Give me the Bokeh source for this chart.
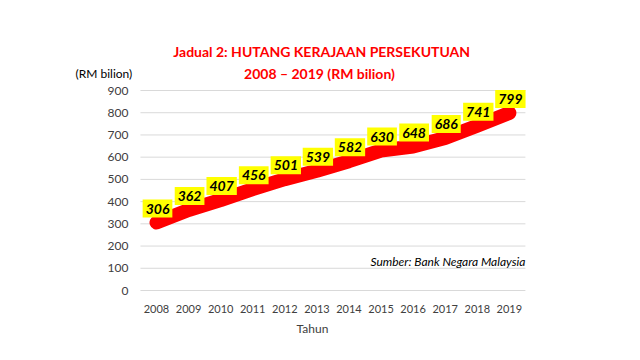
from bokeh.plotting import figure
from bokeh.models import ColumnDataSource, Label, Range1d, FixedTicker
from bokeh.core.properties import value
from bokeh.embed import file_html
from bokeh.resources import INLINE

years = ["2008", "2009", "2010", "2011", "2012", "2013", "2014", "2015", "2016", "2017", "2018", "2019"]
debt = [306, 362, 407, 456, 501, 539, 582, 630, 648, 686, 741, 799]
y_ticks = [0, 100, 200, 300, 400, 500, 600, 700, 800, 900]

title_1 = "Jadual 2: HUTANG KERAJAAN PERSEKUTUAN"
title_2 = "2008 \u2013 2019 (RM bilion)"
unit_label = "(RM bilion)"
source_note = "Sumber: Bank Negara Malaysia"
x_title = "Tahun"

FONT = "Lato"
TICK_COLOR = "#404040"

xs = list(range(len(years)))
src = ColumnDataSource(dict(x=xs, y=debt, t=[str(v) for v in debt]))

# frame covers the whole canvas; category slot = 1 unit
p = figure(x_range=Range1d(-4.863, 14.589), y_range=Range1d(-36, 1305),
           width=624, height=344, output_backend="svg", toolbar_location=None,
           min_border_left=0, min_border_right=0, min_border_top=0, min_border_bottom=46)
p.outline_line_color = None
p.background_fill_color = "white"
p.border_fill_color = "white"
p.xgrid.grid_line_color = None
p.ygrid.grid_line_color = None
p.yaxis.visible = False

# horizontal grid lines spanning the category band
grid_src = ColumnDataSource(dict(x0=[xs[0] - 0.5] * len(y_ticks), x1=[xs[-1] + 0.5] * len(y_ticks),
                                 y=y_ticks, t=[str(v) for v in y_ticks]))
p.segment(x0="x0", x1="x1", y0="y", y1="y", source=grid_src, line_color="#D9D9D9", line_width=1)
p.text(x="x0", y="y", text="t", source=grid_src, x_offset=-12, text_align="right",
       text_baseline="middle", text_font=value(FONT), text_font_size="12px",
       text_color=TICK_COLOR)

p.line("x", "y", source=src, line_color="#FF0000", line_width=14,
       line_cap="round", line_join="round")

p.text(x="x", y="y", text="t", source=src, text_font=value(FONT), text_font_size="14px",
       text_font_style="bold italic", text_color="black", text_align="center",
       text_baseline="middle", y_offset=-14, x_offset=1,
       background_fill_color="#FFFF00", padding=(3, 4))

p.xaxis.ticker = FixedTicker(ticks=xs)
p.xaxis.major_label_overrides = {x: yr for x, yr in zip(xs, years)}
p.xaxis.axis_line_color = None
p.xaxis.major_tick_line_color = None
p.xaxis.minor_tick_line_color = None
p.xaxis.major_label_text_font = FONT
p.xaxis.major_label_text_font_size = "11px"
p.xaxis.major_label_text_color = TICK_COLOR
p.xaxis.major_label_standoff = 0
p.xaxis.axis_label = x_title
p.xaxis.axis_label_text_font = FONT
p.xaxis.axis_label_text_font_style = "normal"
p.xaxis.axis_label_text_font_size = "12px"
p.xaxis.axis_label_text_color = TICK_COLOR
p.xaxis.axis_label_standoff = 5

p.add_layout(Label(x=5.15, y=1075, text=title_1, text_font=FONT, text_font_size="14px",
                   text_font_style="bold", text_color="#FF0000", text_align="center",
                   text_baseline="middle"))
p.add_layout(Label(x=5.08, y=976, text=title_2, text_font=FONT, text_font_size="14px",
                   text_font_style="bold", text_color="#FF0000", text_align="center",
                   text_baseline="middle"))
p.add_layout(Label(x=-1.64, y=976, text=unit_label, text_font=FONT, text_font_size="12px",
                   text_color="black", text_align="center", text_baseline="middle"))
p.add_layout(Label(x=11.5, y=130, text=source_note, text_font=FONT, text_font_size="12px",
                   text_font_style="italic", text_color="black", text_align="right",
                   text_baseline="middle"))

open("out.html", "w").write(file_html(p, INLINE))
